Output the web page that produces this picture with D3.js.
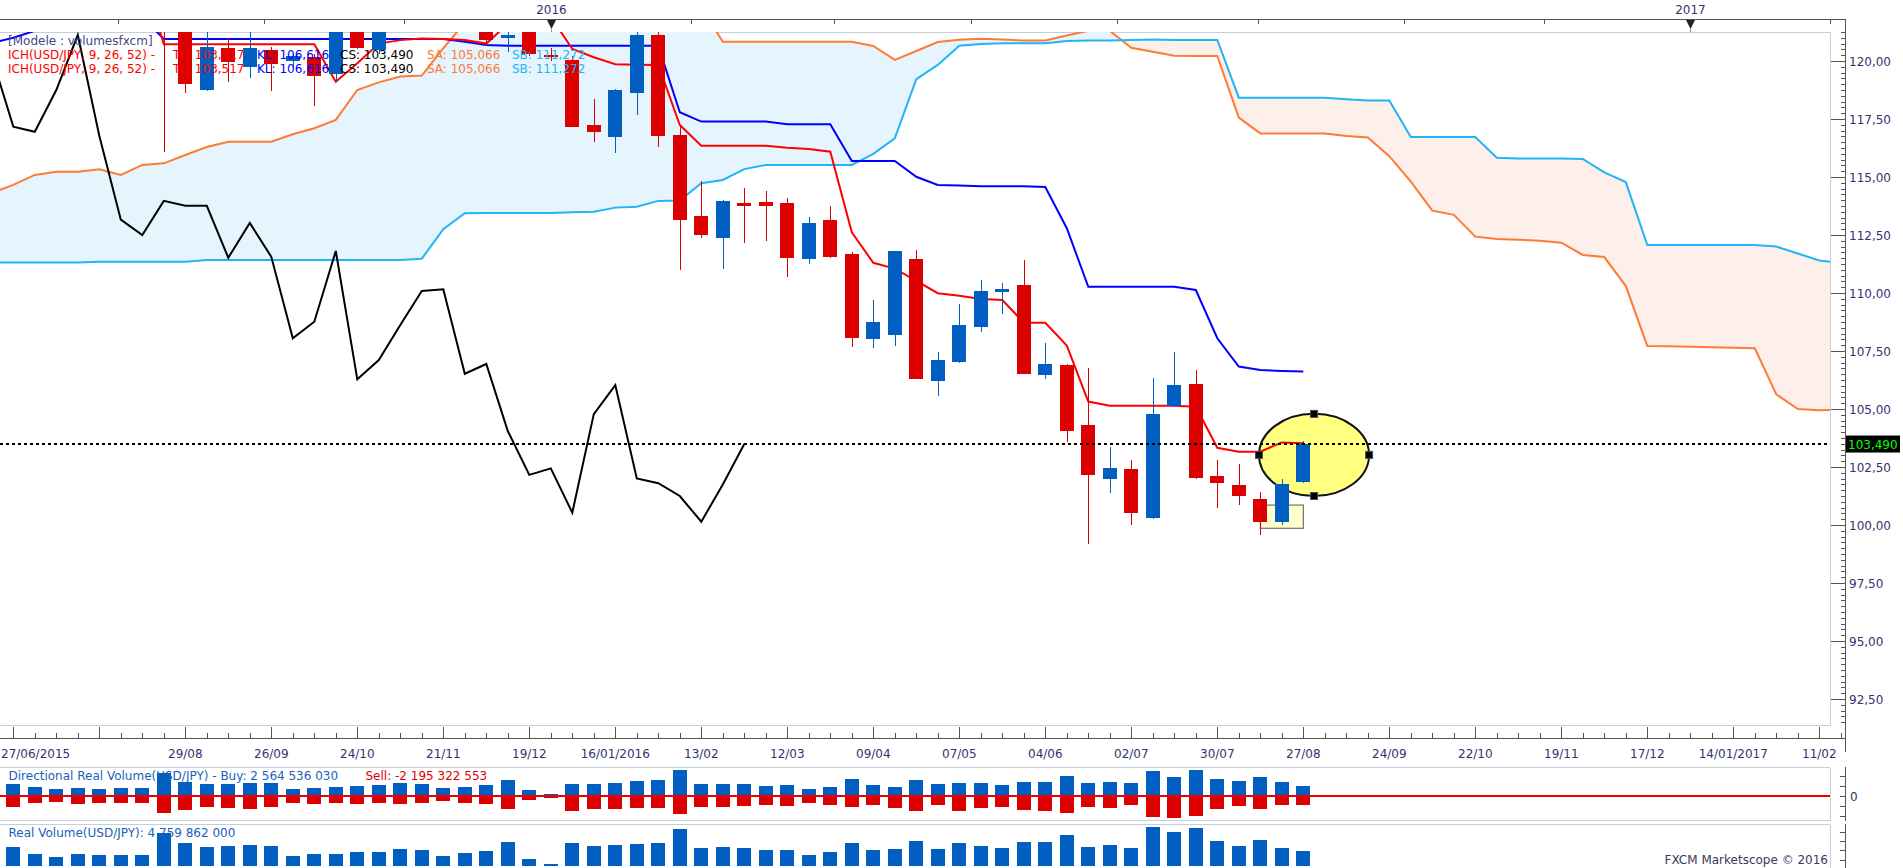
<!DOCTYPE html>
<html><head><meta charset="utf-8">
<script src="https://cdn.jsdelivr.net/npm/d3@7/dist/d3.min.js"></script>
<style>html,body{margin:0;padding:0;background:#fff;overflow:hidden}svg{display:block}</style>
</head><body><svg id="c" width="1903" height="868"></svg>
<script>
// ---------------- DATA ----------------
// weekly bars, bar 0 = week labelled 04/07/2015
const firstBarDate = "2015-07-04";
const opens  = [122.8,122.8,124.1,123.8,124.2,124.2,124.4,123.7,121.7,118.76,120.57,119.75,120.47,120.0,120.19,119.43,121.45,120.47,123.1,122.6,122.8,122.9,123.1,121.0,121.3,120.27,120.06,117.24,116.74,118.63,121.12,116.81,113.32,112.38,113.86,113.94,113.88,111.48,113.15,111.68,108.0,108.19,111.47,106.22,107.04,108.55,110.06,110.34,106.47,106.9,104.31,101.98,102.41,100.32,105.14,106.08,102.10,101.72,101.12,100.14,101.87];
const highs  = [123.3,124.5,124.6,124.5,125.0,125.3,124.6,123.8,121.75,121.4,120.98,121.4,120.6,120.3,120.3,121.5,121.6,123.3,123.6,123.8,123.1,123.7,123.5,122.7,121.5,120.57,120.2,118.36,118.8,121.7,121.6,117.24,114.83,114.0,114.51,114.40,114.08,113.26,113.75,111.78,109.70,111.81,111.85,107.44,109.51,110.56,110.42,111.42,107.83,106.95,106.75,103.38,102.81,106.32,107.44,106.68,102.8,102.62,101.41,101.97,103.62];
const lows   = [121.5,122.6,123.6,123.5,123.9,124.0,123.4,116.09,118.61,118.7,119.08,119.25,118.72,119.7,118.07,119.1,120.5,120.3,122.5,122.3,122.2,122.3,120.66,120.38,120.2,120.0,117.15,116.52,116.02,117.67,116.31,110.99,112.36,111.03,112.17,112.24,110.7,111.24,111.5,107.68,107.64,107.73,106.28,105.57,107.0,108.32,109.11,106.5,106.28,103.56,99.17,101.37,100.0,100.25,105.1,102.0,100.72,100.86,99.57,100.0,101.8];
const closes = [122.9,124.1,123.8,124.2,124.3,124.4,123.7,121.7,119.02,120.62,119.94,120.57,119.86,120.23,119.37,121.45,120.57,123.1,122.6,122.8,122.9,123.1,120.9,121.1,120.29,120.19,117.17,116.95,118.75,121.12,116.78,113.16,112.5,113.97,113.76,113.76,111.52,113.02,111.56,108.05,108.76,111.81,106.28,107.11,108.62,110.09,110.16,106.52,106.94,104.05,102.16,102.44,100.53,104.78,106.03,102.01,101.80,101.25,100.14,101.75,103.49];
// Ichimoku lines, first value = bar -1
const tenkan = [123.5,123.3,123.5,123.7,123.9,123.9,123.9,123.8,120.72,120.72,120.72,120.72,120.72,120.72,120.72,120.72,119.11,119.9,120.75,120.9,120.97,120.95,120.9,120.75,121.6,122.0,121.9,120.52,120.16,119.86,119.84,119.83,117.24,116.35,116.35,116.35,116.35,116.26,116.21,116.09,112.62,111.3,111.05,110.52,109.99,109.88,109.74,109.70,108.72,108.72,107.73,105.32,105.14,105.14,105.14,105.14,105.1,103.33,103.16,103.16,103.56,103.52];
const kijun  = [120.78,121.0,121.3,121.6,121.8,121.9,121.9,121.9,120.95,120.95,120.95,120.95,120.95,120.95,120.95,120.95,120.95,120.95,120.95,120.95,120.95,120.95,120.83,120.69,120.66,120.66,120.66,120.66,120.66,120.66,120.66,120.66,117.79,117.39,117.39,117.39,117.39,117.27,117.27,117.27,115.69,115.69,115.69,115.01,114.66,114.63,114.6,114.6,114.6,114.57,112.79,110.27,110.27,110.27,110.27,110.27,110.13,108.05,106.83,106.68,106.64,106.62];
const senkouA = [114.31,114.66,115.09,115.23,115.23,115.33,115.09,115.52,115.59,115.95,116.29,116.52,116.52,116.52,116.84,117.10,117.46,118.75,119.08,119.33,119.37,120.55,121.65,121.9,122.0,122.1,122.2,122.2,122.3,122.3,122.3,122.3,122.3,122.3,120.83,120.83,120.83,120.83,120.83,120.83,120.83,120.65,120.05,120.43,120.82,120.92,120.96,120.93,120.88,120.88,121.1,121.3,121.3,120.57,120.40,120.23,120.22,120.22,117.56,116.88,116.88,116.88,116.88,116.77,116.7,115.9,114.8,113.55,113.37,112.43,112.33,112.3,112.25,112.17,111.64,111.55,110.3,107.72,107.7,107.68,107.66,107.64,107.62,105.63,105.0,104.95,104.97,105.066];
const senkouB = [111.31,111.31,111.31,111.31,111.31,111.35,111.35,111.35,111.35,111.35,111.42,111.42,111.42,111.42,111.42,111.42,111.42,111.42,111.42,111.42,111.48,112.75,113.44,113.45,113.45,113.45,113.45,113.48,113.5,113.68,113.72,113.97,113.99,114.73,114.87,115.34,115.52,115.52,115.52,115.52,115.52,116.0,116.67,119.22,119.83,120.66,120.73,120.76,120.76,120.76,120.86,120.88,120.88,120.91,120.93,120.91,120.91,120.91,118.42,118.42,118.42,118.42,118.42,118.35,118.3,118.3,116.72,116.72,116.72,116.72,115.83,115.8,115.8,115.8,115.78,115.2,114.78,112.07,112.07,112.07,112.07,112.07,112.07,112.0,111.7,111.4,111.3,111.272];
// volumes (billions)
const buyVol  = [3.08,2.33,1.83,2.08,1.83,2.08,2.08,5.75,3.58,3.08,3.08,3.33,3.33,1.83,2.08,2.33,2.58,2.83,3.33,3.08,2.08,2.33,2.83,4.08,1.58,0.58,3.08,3.08,3.33,3.83,4.08,6.58,3.08,3.08,3.08,2.58,2.83,1.83,2.33,4.33,2.83,2.33,4.08,3.08,3.33,3.33,2.83,3.58,3.58,5.08,3.33,3.58,3.33,6.33,4.83,6.58,4.33,3.83,4.83,3.58,2.565];
const sellVol = [-2.58,-1.58,-1.33,-1.83,-1.58,-1.58,-1.58,-4.08,-3.42,-2.58,-2.92,-3.17,-2.58,-1.58,-1.83,-1.58,-1.83,-1.58,-1.83,-1.58,-1.08,-1.58,-1.83,-3.17,-0.83,-0.33,-3.58,-3.17,-3.17,-2.92,-2.92,-4.42,-2.58,-2.58,-2.33,-2.08,-2.33,-1.58,-2.08,-2.58,-2.08,-2.92,-3.58,-2.08,-3.58,-2.92,-2.58,-3.42,-3.58,-4.08,-2.58,-2.92,-2.08,-5.08,-5.33,-4.83,-3.08,-2.33,-3.08,-2.08,-2.195];
const realVol = [6.16,3.89,2.92,3.89,3.56,3.56,3.56,10.69,7.45,6.16,6.48,6.80,6.48,3.24,3.89,3.89,4.54,4.54,5.51,5.18,3.24,4.21,4.86,7.78,2.27,0.65,7.45,6.48,6.80,7.13,7.45,11.99,5.83,6.16,5.83,5.18,5.18,3.56,4.54,7.45,5.18,5.51,8.10,5.51,7.34,6.37,5.72,7.67,7.67,9.94,6.05,6.70,5.72,12.53,10.91,12.2,7.99,6.37,8.32,5.72,4.76];
// axis labels
const firstDateLabel = "27/06/2015";
const dateLabels = ["29/08","26/09","24/10","21/11","19/12","16/01/2016","13/02","12/03","09/04","07/05","04/06","02/07","30/07","27/08","24/09","22/10","19/11","17/12","14/01/2017","11/02"];
const priceTicks = [92.5,95,97.5,100,102.5,105,107.5,110,112.5,115,117.5,120];
const topTickDates = ["2015-08-15","2015-10-01","2015-11-15","2016-01-01","2016-02-15","2016-04-01","2016-05-15","2016-07-01","2016-08-15","2016-10-01","2016-11-15","2017-01-01","2017-02-15"];
const yearLabels = ["2016","2017"];
const lastPrice = 103.49;
const legendModel = "[Modele : volumesfxcm]";
const legendIch = ["ICH(USD/JPY, 9, 26, 52) -","TL: 103,517","KL: 106,616","CS: 103,490","SA: 105,066","SB: 111,272"];
const volTitle = ["Directional Real Volume(USD/JPY) -  Buy: 2 564 536 030","Sell: -2 195 322 553"];
const realTitle = "Real Volume(USD/JPY): 4 759 862 000";
const copyright = "FXCM Marketscope \u00a9 2016";
// annotations in data units (bar index, price)
const ellipseAnn = {k:60.5, p:103.02, dk:2.56, dp:1.77};
const rectAnn = {k0:58.0, k1:60.0, p0:100.86, p1:99.86};

// ---------------- DRAW ----------------
const FONT = "'DejaVu Sans', Verdana, sans-serif";
const svg = d3.select("#c");
const PL = {l:0, r:1830, t:32, b:725};
const AXX = 1845.5;
const xk = d3.scaleLinear().domain([0,60]).range([13.3,1303.3]);
const yP = d3.scaleLinear().domain([92.5,120]).range([699,61]);
const C = {blue:"#005fc0", red:"#dd0000", tenkan:"#ff0000", kijun:"#0000ff", sa:"#ff7a33", sb:"#22b4f5",
  cloudUp:"#e6f4fd", cloudDn:"#fdefe9", frame:"#c3cfdb", axis:"#555555", txt:"#333370"};

const defs = svg.append("defs");
defs.append("clipPath").attr("id","plotClip").append("rect")
  .attr("x",PL.l).attr("y",PL.t).attr("width",PL.r-PL.l).attr("height",PL.b-PL.t);

const cloud = senkouA.map((a,i)=>({k:i-1,a:a,b:senkouB[i]}));
defs.append("clipPath").attr("id","aboveB").append("path")
  .attr("d", d3.area().x(d=>xk(d.k)).y0(0).y1(d=>yP(d.b))(cloud));
defs.append("clipPath").attr("id","belowB").append("path")
  .attr("d", d3.area().x(d=>xk(d.k)).y0(900).y1(d=>yP(d.b))(cloud));

// frames
svg.append("rect").attr("x",-1).attr("y",PL.t+0.5).attr("width",PL.r+1.5).attr("height",PL.b-PL.t)
  .attr("fill","none").attr("stroke",C.frame).attr("stroke-width",1);

const plot = svg.append("g").attr("clip-path","url(#plotClip)");
const cloudArea = d3.area().x(d=>xk(d.k)).y0(d=>yP(d.a)).y1(d=>yP(d.b));
plot.append("g").attr("clip-path","url(#aboveB)").append("path").attr("d",cloudArea(cloud)).attr("fill",C.cloudUp);
plot.append("g").attr("clip-path","url(#belowB)").append("path").attr("d",cloudArea(cloud)).attr("fill",C.cloudDn);

// annotations (behind lines and candles)
plot.append("rect")
  .attr("x",xk(rectAnn.k0)).attr("y",yP(rectAnn.p0))
  .attr("width",xk(rectAnn.k1)-xk(rectAnn.k0)).attr("height",yP(rectAnn.p1)-yP(rectAnn.p0))
  .attr("fill","#ffffcc").attr("stroke","#555").attr("stroke-width",1);
const ecx = xk(ellipseAnn.k), ecy = yP(ellipseAnn.p);
const erx = xk(ellipseAnn.k+ellipseAnn.dk)-ecx, ery = yP(ellipseAnn.p-ellipseAnn.dp)-ecy;
plot.append("ellipse").attr("cx",ecx).attr("cy",ecy).attr("rx",erx).attr("ry",ery)
  .attr("fill","#ffff80").attr("stroke","#111").attr("stroke-width",2);

const line = d3.line().x(d=>xk(d.k)).y(d=>yP(d.v));
const series = (arr, off) => arr.map((v,i)=>({k:i+off, v:v}));
plot.append("path").attr("d",line(series(senkouA,-1))).attr("fill","none").attr("stroke",C.sa).attr("stroke-width",2);
plot.append("path").attr("d",line(series(senkouB,-1))).attr("fill","none").attr("stroke",C.sb).attr("stroke-width",2);
plot.append("path").attr("d",line(series(kijun,-1))).attr("fill","none").attr("stroke",C.kijun).attr("stroke-width",2);
plot.append("path").attr("d",line(series(tenkan,-1))).attr("fill","none").attr("stroke",C.tenkan).attr("stroke-width",2);
// chikou span = closes shifted back 26 bars
const chikou = closes.slice(25).map((v,i)=>({k:i-1, v:v}));
plot.append("path").attr("d",line(chikou)).attr("fill","none").attr("stroke","#000").attr("stroke-width",2);

// candles
const bars = opens.map((o,i)=>({k:i,o:o,h:highs[i],l:lows[i],c:closes[i]}));
const cg = plot.append("g").attr("shape-rendering","crispEdges");
cg.selectAll("line.w").data(bars).join("line")
  .attr("x1",d=>Math.round(xk(d.k))+0.5).attr("x2",d=>Math.round(xk(d.k))+0.5)
  .attr("y1",d=>yP(d.h)).attr("y2",d=>yP(d.l))
  .attr("stroke",d=>d.c>=d.o?C.blue:C.red).attr("stroke-width",1);
cg.selectAll("rect.b").data(bars).join("rect")
  .attr("x",d=>Math.round(xk(d.k))-7).attr("width",14)
  .attr("y",d=>yP(Math.max(d.o,d.c)))
  .attr("height",d=>Math.max(2,Math.abs(yP(d.o)-yP(d.c))))
  .attr("fill",d=>d.c>=d.o?C.blue:C.red);

// current price dotted line
plot.append("line").attr("x1",0).attr("x2",PL.r-3).attr("y1",yP(lastPrice)).attr("y2",yP(lastPrice))
  .attr("stroke","#000").attr("stroke-width",2).attr("stroke-dasharray","3,3");

// ellipse handles
[[ecx,ecy-ery],[ecx,ecy+ery],[ecx-erx,ecy],[ecx+erx,ecy]].forEach(p=>{
  svg.append("rect").attr("x",p[0]-3.5).attr("y",p[1]-3.5).attr("width",7).attr("height",7)
    .attr("fill","#000").attr("stroke","#4a4a66").attr("stroke-width",1);
});

// legends
const tx = (x,y,s,col,anchor)=>svg.append("text").attr("x",x).attr("y",y).text(s)
  .attr("font-family",FONT).attr("font-size",12).attr("fill",col).attr("text-anchor",anchor||"start");
tx(8,45,legendModel,"#44448a");
const ichX = [8,173,257,340,427,512];
const ichC = [C.tenkan,C.tenkan,C.kijun,"#000",C.sa,C.sb];
[59,73].forEach(y=>legendIch.forEach((s,i)=>tx(ichX[i],y,s,ichC[i])));

// right price axis
const ax = svg.append("g").attr("shape-rendering","crispEdges");
ax.append("line").attr("x1",AXX).attr("x2",AXX).attr("y1",19).attr("y2",752).attr("stroke",C.axis);
const minor = d3.range(91.5,121.3,0.25);
ax.selectAll("line.mn").data(minor).join("line")
  .attr("x1",AXX-5).attr("x2",AXX).attr("y1",d=>Math.round(yP(d))+0.5).attr("y2",d=>Math.round(yP(d))+0.5).attr("stroke",C.axis);
ax.selectAll("line.mj").data(priceTicks).join("line")
  .attr("x1",1831).attr("x2",AXX).attr("y1",d=>Math.round(yP(d))+0.5).attr("y2",d=>Math.round(yP(d))+0.5).attr("stroke",C.axis);
priceTicks.forEach(v=>tx(1849,yP(v)+5,d3.format(".2f")(v).replace(".",","),C.txt));
svg.append("rect").attr("x",1846).attr("y",yP(lastPrice)-8.5).attr("width",54).attr("height",17).attr("fill","#000");
tx(1848,yP(lastPrice)+4.5,d3.format(".3f")(lastPrice).replace(".",","),"#00ff00");

// top time axis
const parse = d3.timeParse("%Y-%m-%d");
const xTop = d3.scaleTime().domain([parse("2016-01-01"),parse("2017-01-01")]).range([xk(25),xk(78)]);
ax.append("line").attr("x1",0).attr("x2",AXX).attr("y1",19.5).attr("y2",19.5).attr("stroke",C.axis);
topTickDates.forEach(s=>{
  const x = Math.round(xTop(parse(s)))+0.5;
  ax.append("line").attr("x1",x).attr("x2",x).attr("y1",19.5).attr("y2",24).attr("stroke",C.axis);
});
yearLabels.forEach(yl=>{
  const x = Math.round(xTop(parse(yl+"-01-01")))+0.5;
  tx(x,14,yl,C.txt,"middle");
  svg.append("path").attr("d",`M${x-4.5},20 L${x+4.5},20 L${x},29 Z`).attr("fill","#222");
  svg.append("line").attr("x1",x).attr("x2",x).attr("y1",28).attr("y2",32).attr("stroke","#999");
});

// bottom date ruler
ax.append("line").attr("x1",0).attr("x2",AXX).attr("y1",738.5).attr("y2",738.5).attr("stroke",C.axis);
d3.range(-1,86).forEach(k=>{
  const x = Math.round(xk(k))+0.5;
  const major = (k-8)%4===0;
  ax.append("line").attr("x1",x).attr("x2",x).attr("y1",major?727:733).attr("y2",738.5).attr("stroke",C.axis);
});
tx(1,758,firstDateLabel,C.txt);
dateLabels.forEach((s,i)=>tx(xk(8+4*i),758,s,C.txt,"middle"));

// ----- directional volume panel -----
const yD = d3.scaleLinear().domain([-5.925,7.15]).range([820,767.7]);
const p1 = svg.append("g").attr("shape-rendering","crispEdges");
p1.append("line").attr("x1",0).attr("x2",1830).attr("y1",767.5).attr("y2",767.5).attr("stroke",C.frame);
p1.append("line").attr("x1",0).attr("x2",1830).attr("y1",820.5).attr("y2",820.5).attr("stroke",C.frame);
p1.append("line").attr("x1",1830.5).attr("x2",1830.5).attr("y1",767.5).attr("y2",820.5).attr("stroke",C.frame);
p1.selectAll("rect.bv").data(buyVol).join("rect")
  .attr("x",(d,i)=>Math.round(xk(i))-7).attr("width",14)
  .attr("y",d=>yD(d)).attr("height",d=>yD(0)-yD(d)).attr("fill",C.blue);
p1.selectAll("rect.sv").data(sellVol).join("rect")
  .attr("x",(d,i)=>Math.round(xk(i))-7).attr("width",14)
  .attr("y",yD(0)).attr("height",d=>yD(d)-yD(0)).attr("fill",C.red);
p1.append("line").attr("x1",0).attr("x2",1830).attr("y1",yD(0)).attr("y2",yD(0)).attr("stroke","#ee0000").attr("stroke-width",2);
p1.append("line").attr("x1",AXX).attr("x2",AXX).attr("y1",767).attr("y2",821).attr("stroke",C.axis);
[-5,-2.5,0,2.5,5].forEach(v=>p1.append("line").attr("x1",AXX-6).attr("x2",AXX)
  .attr("y1",Math.round(yD(v))+0.5).attr("y2",Math.round(yD(v))+0.5).attr("stroke",C.axis));
tx(1850,yD(0)+4.5,"0",C.txt);
const t1 = svg.append("text").attr("font-family",FONT).attr("font-size",12).attr("y",780);
t1.append("tspan").attr("x",8.5).attr("fill","#1a5fb8").text(volTitle[0]);
t1.append("tspan").attr("x",365.5).attr("fill","#e00000").text(volTitle[1]);

// ----- real volume panel -----
const yR = d3.scaleLinear().domain([0,13.5]).range([865.7,824]);
const p2 = svg.append("g").attr("shape-rendering","crispEdges");
p2.append("line").attr("x1",0).attr("x2",1830).attr("y1",824.5).attr("y2",824.5).attr("stroke",C.frame);
p2.append("line").attr("x1",1830.5).attr("x2",1830.5).attr("y1",824.5).attr("y2",868).attr("stroke",C.frame);
p2.selectAll("rect.rv").data(realVol).join("rect")
  .attr("x",(d,i)=>Math.round(xk(i))-7).attr("width",14)
  .attr("y",d=>yR(d)).attr("height",d=>yR(0)-yR(d)).attr("fill",C.blue);
p2.append("line").attr("x1",AXX).attr("x2",AXX).attr("y1",824).attr("y2",868).attr("stroke",C.axis);
[2,5,8,11].forEach(v=>p2.append("line").attr("x1",AXX-6).attr("x2",AXX)
  .attr("y1",Math.round(yR(v))+0.5).attr("y2",Math.round(yR(v))+0.5).attr("stroke",C.axis));
tx(8.5,837,realTitle,"#1a5fb8");
tx(1828,864,copyright,"#3a3a5a","end");
</script></body></html>
